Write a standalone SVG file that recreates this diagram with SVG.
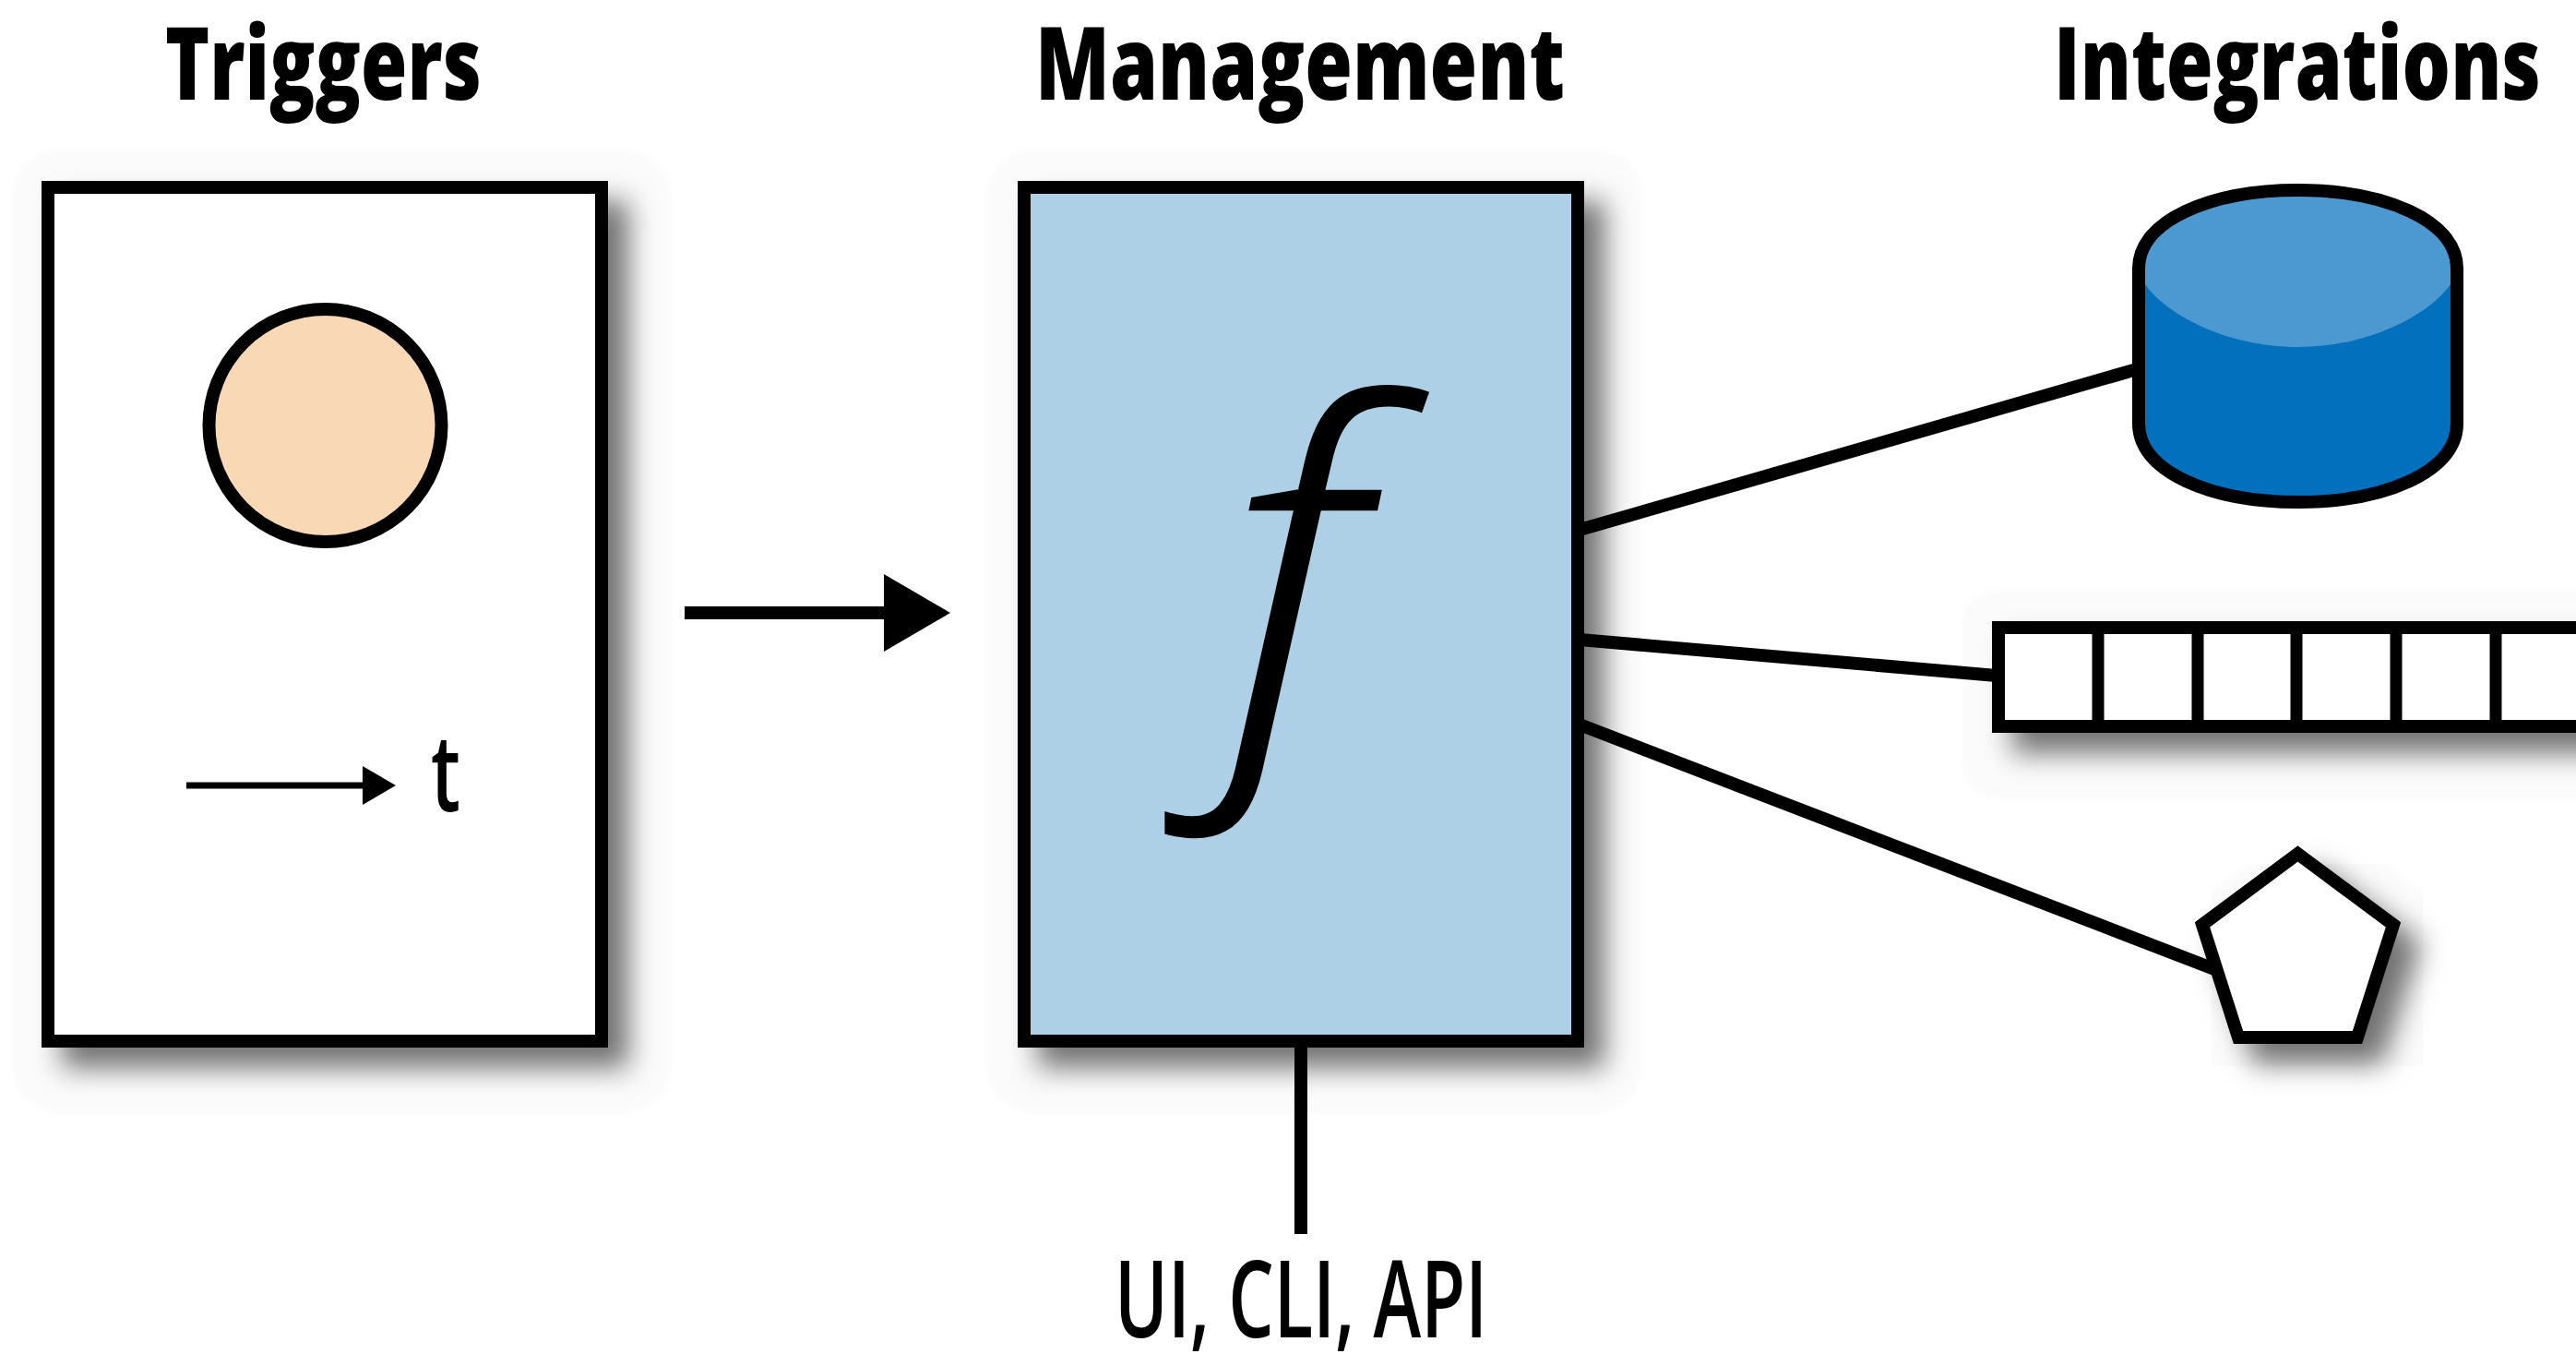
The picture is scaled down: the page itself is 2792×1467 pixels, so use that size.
<svg xmlns="http://www.w3.org/2000/svg" width="2792" height="1467" viewBox="0 0 2792 1467">
<style>
.title{font-family:"Open Sans","Liberation Sans",sans-serif;font-weight:800;font-size:110px;fill:#000}
.label{font-family:"Open Sans","Liberation Sans",sans-serif;font-weight:600;font-size:116px;fill:#000}
.fn{font-family:"Noto Sans","Open Sans",sans-serif;font-style:italic;font-weight:300;font-size:489px;fill:#000}
.halo{fill:#fbfbfb}
.box{stroke:#000;stroke-width:14;stroke-linejoin:miter}
.conn{stroke:#000;stroke-width:14;fill:none}
.edge{stroke:#000;stroke-width:14;fill:none}
</style>
<defs>
<filter id="shadow" x="-40%" y="-40%" width="180%" height="180%">
<feDropShadow dx="22" dy="22" stdDeviation="15" flood-color="#000" flood-opacity="0.55"/>
</filter>
<filter id="shadowWide" filterUnits="userSpaceOnUse" x="2100" y="620" width="800" height="280">
<feDropShadow dx="22" dy="22" stdDeviation="15" flood-color="#000" flood-opacity="0.55"/>
</filter>
<filter id="soft" x="-5%" y="-5%" width="110%" height="110%"><feGaussianBlur stdDeviation="3"/></filter>
<marker id="bigHead" markerUnits="userSpaceOnUse" markerWidth="72" markerHeight="84" refX="0" refY="42" orient="auto">
<path d="M0 0L72 42L0 84Z" fill="#000"/>
</marker>
<marker id="smallHead" markerUnits="userSpaceOnUse" markerWidth="36" markerHeight="42" refX="0" refY="21" orient="auto">
<path d="M0 0L36 21L0 42Z" fill="#000"/>
</marker>
</defs>
<rect width="2792" height="1467" fill="#fff"/>
<g id="title-triggers"><text class="title" x="179" y="108" textLength="343" lengthAdjust="spacingAndGlyphs">Triggers</text></g>
<g id="title-management"><text class="title" x="1122" y="108" textLength="574" lengthAdjust="spacingAndGlyphs">Management</text></g>
<g id="title-integrations"><text class="title" x="2226" y="108" textLength="528" lengthAdjust="spacingAndGlyphs">Integrations</text></g>
<g id="triggers">
<rect class="halo" x="13" y="163" width="714" height="1042" rx="50" filter="url(#soft)"/>
<rect class="box" x="52" y="203" width="600" height="925" fill="#fff" filter="url(#shadow)"/>
<circle cx="352.5" cy="461" r="126" fill="#f9d9b5" stroke="#000" stroke-width="14"/>
<line x1="202" y1="851" x2="393" y2="851" stroke="#000" stroke-width="7" marker-end="url(#smallHead)"/>
<text class="label" x="467" y="879" textLength="32" lengthAdjust="spacingAndGlyphs">t</text>
</g>
<g id="management">
<rect class="halo" x="1069" y="163" width="711" height="1042" rx="50" filter="url(#soft)"/>
<rect class="box" x="1110" y="203" width="600" height="925" fill="#aed0e6" filter="url(#shadow)"/>
<text class="fn" x="1326" y="791" transform="translate(1326 0) scale(1.066 1) translate(-1326 0)">f</text>
</g>
<g id="database">
<path d="M2318 291C2318 238 2398 206 2490.500 206S2663 238 2663 291V459C2663 512 2583 544 2490.500 544S2318 512 2318 459Z" fill="#0270bc"/>
<path d="M2325 291C2325 243 2400 212 2490.500 212S2656 243 2656 291V308C2636 338 2571 376 2490.500 376S2345 338 2325 308Z" fill="#4b99d0"/>
<path class="edge" d="M2318 291C2318 238 2398 206 2490.500 206S2663 238 2663 291V459C2663 512 2583 544 2490.500 544S2318 512 2318 459Z"/>
</g>
<g id="queue">
<rect class="halo" x="2126" y="639" width="700" height="226" rx="40" filter="url(#soft)"/>
<rect class="box" x="2166" y="680" width="700" height="107" fill="#fff" filter="url(#shadowWide)"/>
<path class="conn" d="M2274 686V781M2382 686V781M2489 686V781M2597 686V781M2705 686V781" style="stroke-width:13"/>
</g>
<g id="function-pentagon">
<path class="halo" d="M2511.500 946L2615 1023L2576 1145H2447L2408 1023Z" stroke="#fbfbfb" stroke-width="104" stroke-linejoin="round" filter="url(#soft)"/>
<path class="box" d="M2490.500 925L2594 1002L2555 1124H2426L2387 1002Z" fill="#fff" filter="url(#shadow)"/>
</g>
<g id="connectors">
<line class="conn" x1="742" y1="664" x2="958" y2="664" marker-end="url(#bigHead)"/>
<line class="conn" x1="1712" y1="574" x2="2316" y2="400"/>
<line class="conn" x1="1712" y1="693" x2="2164" y2="732"/>
<line class="conn" x1="1712" y1="785" x2="2400" y2="1050"/>
<line class="conn" x1="1410" y1="1130" x2="1410" y2="1337"/>
</g>
<g id="label-api"><text class="label" x="1208" y="1449" textLength="404" lengthAdjust="spacingAndGlyphs">UI, CLI, API</text></g>
</svg>
